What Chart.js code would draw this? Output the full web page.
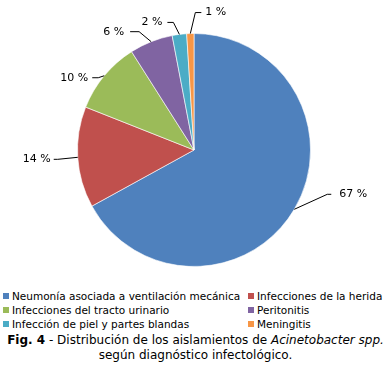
<!DOCTYPE html>
<html>
<head>
<meta charset="utf-8">
<script src="https://cdn.jsdelivr.net/npm/chart.js@4/dist/chart.umd.min.js"></script>
<style>
  html, body { margin: 0; padding: 0; background: #fff; }
  #wrap { width: 391px; height: 371px; position: relative; overflow: hidden; font-family: "DejaVu Sans", Verdana, sans-serif; color: #000; }
  #chartBox { position: absolute; left: 0; top: 0; width: 391px; height: 285px; }
  #legend { position: absolute; left: 3px; top: 289px; display: grid; grid-template-columns: 245px 140px; font-size: 10.5px; line-height: 14px; }
  .li { display: flex; align-items: center; white-space: nowrap; }
  .sw { width: 6px; height: 6px; margin-right: 3px; flex: none; }
  #caption { position: absolute; left: 0; top: 333px; width: 391px; text-align: center; font-size: 12px; line-height: 15px; }
</style>
</head>
<body>
<div id="wrap">
  <div id="chartBox"><canvas id="c"></canvas></div>
  <div id="legend"></div>
  <div id="caption"><b>Fig. 4</b> - Distribución de los aislamientos de <i>Acinetobacter spp.</i><br>según diagnóstico infectológico.</div>
</div>
<script>
// ---- data ----
const categories = [
  "Neumonía asociada a ventilación mecánica",
  "Infecciones de la herida",
  "Infecciones del tracto urinario",
  "Peritonitis",
  "Infección de piel y partes blandas",
  "Meningitis"
];
const percentValues = [67, 14, 10, 6, 2, 1];
const valueLabels = ["67 %", "14 %", "10 %", "6 %", "2 %", "1 %"];
// ---- styles ----
const colors = ["#4F81BD", "#C0504D", "#9BBB59", "#8064A2", "#4BACC6", "#F79646"];
// leader line geometry per slice: [elbow dx, elbow dy, horizontal length, text gap]
const leaderStyle = [
  [33, -15, 4, 8],
  [-20, 2, -4, 3],
  [-6, 2, -6, 4],
  [-12, -10, -9, 6],
  [-6, -12, -6, 5],
  [5, -21, 6, 4]
];
const legendOrder = [0, 1, 2, 3, 4, 5];

const leg = document.getElementById('legend');
legendOrder.forEach(i => {
  const d = document.createElement('div');
  d.className = 'li';
  const s = document.createElement('span');
  s.className = 'sw';
  s.style.background = colors[i];
  d.appendChild(s);
  d.appendChild(document.createTextNode(categories[i]));
  leg.appendChild(d);
});

const labelPlugin = {
  id: 'outerLabels',
  afterDatasetsDraw(chart) {
    const ctx = chart.ctx;
    const meta = chart.getDatasetMeta(0);
    ctx.save();
    ctx.font = '11px "DejaVu Sans", Verdana, sans-serif';
    ctx.fillStyle = '#000';
    ctx.strokeStyle = '#000';
    ctx.lineWidth = 1;
    ctx.textBaseline = 'middle';
    meta.data.forEach((arc, i) => {
      const p = arc.getProps(['x', 'y', 'startAngle', 'endAngle', 'outerRadius'], true);
      const a = (p.startAngle + p.endAngle) / 2;
      const ex = p.x + p.outerRadius * Math.cos(a);
      const ey = p.y + p.outerRadius * Math.sin(a);
      const [dx, dy, hl, gap] = leaderStyle[i];
      const bx = ex + dx, by = ey + dy;
      const hx = bx + hl;
      ctx.beginPath();
      ctx.moveTo(ex, ey);
      ctx.lineTo(bx, by);
      ctx.lineTo(hx, by);
      ctx.stroke();
      if (hl >= 0) {
        ctx.textAlign = 'left';
        ctx.fillText(valueLabels[i], hx + gap, by);
      } else {
        ctx.textAlign = 'right';
        ctx.fillText(valueLabels[i], hx - gap, by);
      }
    });
    ctx.restore();
  }
};

new Chart(document.getElementById('c'), {
  type: 'pie',
  data: {
    labels: categories,
    datasets: [{
      data: percentValues,
      backgroundColor: colors,
      borderColor: 'rgba(255,255,255,0.6)',
      borderWidth: 1
    }]
  },
  options: {
    responsive: true,
    maintainAspectRatio: false,
    animation: false,
    layout: { padding: { top: 33, bottom: 18, left: 0, right: 3 } },
    plugins: {
      legend: { display: false },
      tooltip: { enabled: false }
    }
  },
  plugins: [labelPlugin]
});
</script>
</body>
</html>
